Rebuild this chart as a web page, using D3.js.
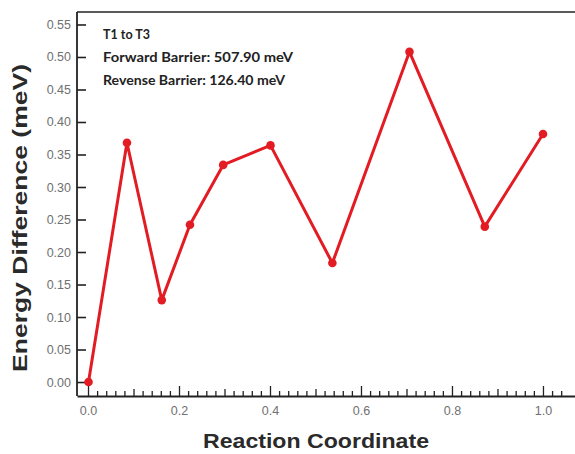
<!DOCTYPE html>
<html><head><meta charset="utf-8">
<script src="https://cdn.jsdelivr.net/npm/d3@7"></script>
<style>body{margin:0;background:#fff}svg{display:block}</style>
</head><body><svg id="c" width="575" height="454"></svg>
<script>
const xValues = [0, 0.0845, 0.161, 0.223, 0.296, 0.400, 0.536, 0.7055, 0.871, 0.999];
const yValues = [0, 0.368, 0.126, 0.242, 0.334, 0.364, 0.183, 0.5079, 0.239, 0.3815];
const xTicks = [0, 0.2, 0.4, 0.6, 0.8, 1.0];
const yTicks = [0, 0.05, 0.10, 0.15, 0.20, 0.25, 0.30, 0.35, 0.40, 0.45, 0.50, 0.55];
const annotations = ["T1 to T3", "Forward Barrier: 507.90 meV", "Revense Barrier: 126.40 meV"];
const xTitle = "Reaction Coordinate";
const yTitle = "Energy Difference (meV)";

const svg = d3.select("#c");
const L = 77, R = 575, T = 12, B = 396;
const x = d3.scaleLinear().domain([-0.0253, 1.0693]).range([L, R]);
const y = d3.scaleLinear().domain([-0.0215, 0.5692]).range([B, T]);

// frame
svg.append("line").attr("x1", L).attr("x2", R).attr("y1", T).attr("y2", T)
  .attr("stroke", "#222").attr("stroke-width", 1.6);

// x axis
const minor = d3.range(0, 53).map(i => i * 0.02).filter(v => v <= 1.06);
const gx = svg.append("g").attr("transform", `translate(0,${B})`);
gx.call(d3.axisBottom(x).tickValues(minor).tickSize(0).tickFormat(""));
gx.select(".domain").attr("stroke", "#222").attr("stroke-width", 1.8);
gx.selectAll(".tk").data(minor).enter().append("line")
  .attr("x1", d => x(d)).attr("x2", d => x(d))
  .attr("y1", 0)
  .attr("y2", d => { const r = Math.round(d * 50); return r % 10 === 0 ? -10 : (r % 5 === 0 ? -7 : -5); })
  .attr("stroke", "#222").attr("stroke-width", 1.3);
gx.selectAll(".lb").data(xTicks).enter().append("text")
  .attr("x", d => x(d)).attr("y", 19)
  .attr("text-anchor", "middle").attr("font-family", "Liberation Sans, Arial, sans-serif")
  .attr("font-size", 12.5).attr("fill", "#707070").text(d => d.toFixed(1));

// y axis
const gy = svg.append("g").attr("transform", `translate(${L},0)`);
gy.call(d3.axisRight(y).tickValues(yTicks).tickSize(9).tickFormat(""));
gy.select(".domain").remove();
gy.selectAll(".tick line").attr("stroke", "#222").attr("stroke-width", 1.6);
svg.append("line").attr("x1", L).attr("x2", L).attr("y1", T).attr("y2", B)
  .attr("stroke", "#222").attr("stroke-width", 1.8);
gy.selectAll(".lb").data(yTicks).enter().append("text")
  .attr("x", -6).attr("y", d => y(d) + 4.5)
  .attr("text-anchor", "end").attr("font-family", "Liberation Sans, Arial, sans-serif")
  .attr("font-size", 12.5).attr("fill", "#707070").text(d => d.toFixed(2));

// titles
svg.append("text").attr("x", 316).attr("y", 448).attr("text-anchor", "middle")
  .attr("font-family", "Liberation Sans, Arial, sans-serif").attr("font-weight", "bold")
  .attr("font-size", 21).attr("fill", "#2a2a2a")
  .attr("textLength", 226).attr("lengthAdjust", "spacingAndGlyphs").text(xTitle);
svg.append("text").attr("transform", "translate(27,218) rotate(-90)").attr("text-anchor", "middle")
  .attr("font-family", "Liberation Sans, Arial, sans-serif").attr("font-weight", "bold")
  .attr("font-size", 20).attr("fill", "#2a2a2a")
  .attr("textLength", 308).attr("lengthAdjust", "spacingAndGlyphs").text(yTitle);

// annotations
const annY = [39, 62, 85];
const annW = [47, 190, 182];
annotations.forEach((t, i) => {
  svg.append("text").attr("x", 103).attr("y", annY[i])
    .attr("font-family", "Lato, 'Noto Sans', sans-serif").attr("font-size", 12.5)
    .attr("font-weight", "bold")
    .attr("fill", "#222").attr("textLength", annW[i]).attr("lengthAdjust", "spacingAndGlyphs")
    .text(t);
});

// series
const data = xValues.map((v, i) => [v, yValues[i]]);
svg.append("path").datum(data)
  .attr("fill", "none").attr("stroke", "#e31b23").attr("stroke-width", 3)
  .attr("stroke-linejoin", "round")
  .attr("d", d3.line().x(d => x(d[0])).y(d => y(d[1])));
svg.selectAll(".pt").data(data).enter().append("circle")
  .attr("cx", d => x(d[0])).attr("cy", d => y(d[1])).attr("r", 4.3)
  .attr("fill", "#e31b23");
</script></body></html>
